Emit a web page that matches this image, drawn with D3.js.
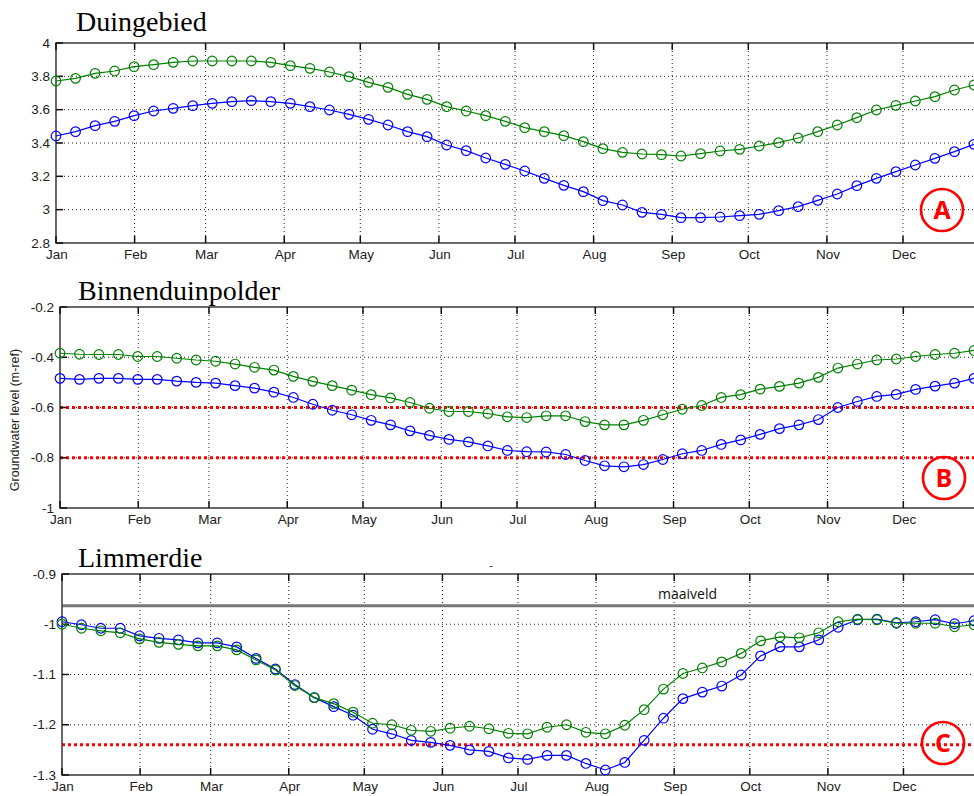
<!DOCTYPE html>
<html>
<head>
<meta charset="utf-8">
<script src="https://cdn.jsdelivr.net/npm/d3@7"></script>
<style>
  body { margin: 0; background: #fff; }
  svg { display: block; }
</style>
</head>
<body>
<div id="chart"></div>
<script>
// month tick labels
const months = ["Jan", "Feb", "Mar", "Apr", "May", "Jun", "Jul", "Aug", "Sep", "Oct", "Nov", "Dec"];

// 48 samples, evenly spread over the year (day offset from 1 Jan)
const sampleCount = 48;
const lastDay = 362;

// Duingebied
const duinGreen = [3.772, 3.788, 3.818, 3.832, 3.858, 3.870, 3.884, 3.892, 3.892, 3.892, 3.892, 3.884,
  3.864, 3.848, 3.826, 3.798, 3.764, 3.734, 3.692, 3.662, 3.618, 3.592, 3.564, 3.530,
  3.492, 3.468, 3.444, 3.408, 3.366, 3.344, 3.334, 3.330, 3.322, 3.336, 3.352, 3.362,
  3.382, 3.402, 3.430, 3.468, 3.508, 3.552, 3.598, 3.626, 3.652, 3.678, 3.718, 3.748];
const duinBlue = [3.442, 3.468, 3.504, 3.530, 3.564, 3.592, 3.608, 3.624, 3.638, 3.648, 3.654, 3.648,
  3.638, 3.618, 3.598, 3.572, 3.542, 3.508, 3.468, 3.438, 3.388, 3.354, 3.310, 3.272,
  3.232, 3.188, 3.146, 3.108, 3.054, 3.028, 2.984, 2.972, 2.952, 2.952, 2.956, 2.964,
  2.972, 2.994, 3.018, 3.056, 3.094, 3.144, 3.188, 3.228, 3.268, 3.308, 3.348, 3.392];

// Binnenduinpolder
const polderGreen = [-0.384, -0.388, -0.389, -0.389, -0.397, -0.397, -0.404, -0.411, -0.416, -0.427, -0.440, -0.451,
  -0.476, -0.496, -0.513, -0.531, -0.549, -0.562, -0.580, -0.603, -0.616, -0.616, -0.624, -0.637,
  -0.640, -0.633, -0.633, -0.656, -0.669, -0.669, -0.651, -0.629, -0.607, -0.592, -0.560, -0.549,
  -0.527, -0.516, -0.503, -0.480, -0.443, -0.427, -0.411, -0.407, -0.397, -0.389, -0.384, -0.373];
const polderBlue = [-0.484, -0.488, -0.484, -0.484, -0.488, -0.488, -0.495, -0.500, -0.503, -0.513, -0.523, -0.539,
  -0.560, -0.587, -0.611, -0.629, -0.651, -0.669, -0.693, -0.711, -0.727, -0.737, -0.753, -0.771,
  -0.776, -0.777, -0.787, -0.811, -0.832, -0.836, -0.827, -0.807, -0.784, -0.771, -0.747, -0.729,
  -0.707, -0.684, -0.669, -0.648, -0.600, -0.576, -0.556, -0.548, -0.528, -0.515, -0.503, -0.484];

// Limmerdie
const limGreen = [-1.000, -1.008, -1.013, -1.017, -1.029, -1.036, -1.040, -1.043, -1.043, -1.051, -1.071, -1.091,
  -1.122, -1.146, -1.158, -1.175, -1.197, -1.200, -1.211, -1.213, -1.207, -1.203, -1.208, -1.217,
  -1.218, -1.205, -1.200, -1.215, -1.218, -1.201, -1.170, -1.129, -1.098, -1.087, -1.075, -1.058,
  -1.033, -1.025, -1.027, -1.017, -0.995, -0.990, -0.991, -0.998, -0.998, -0.998, -1.005, -1.001];
const limBlue = [-0.995, -1.001, -1.008, -1.008, -1.023, -1.028, -1.031, -1.037, -1.037, -1.045, -1.068, -1.089,
  -1.120, -1.146, -1.164, -1.181, -1.209, -1.218, -1.231, -1.235, -1.241, -1.250, -1.253, -1.266,
  -1.269, -1.261, -1.261, -1.277, -1.290, -1.275, -1.231, -1.187, -1.148, -1.135, -1.123, -1.101,
  -1.063, -1.045, -1.045, -1.031, -1.006, -0.991, -0.990, -0.997, -0.995, -0.991, -0.999, -0.993];

const panels = [
  { title: "Duingebied", left: 56, top: 43, bottom: 243, titleX: 76, titleY: 31,
    yDomain: [2.8, 4], yTicks: [2.8, 3, 3.2, 3.4, 3.6, 3.8, 4],
    green: duinGreen, blue: duinBlue, limits: [], maaiveld: null,
    badge: { label: "A", x: 942, y: 210 } },
  { title: "Binnenduinpolder", left: 60, top: 307, bottom: 508, titleX: 78, titleY: 300,
    yDomain: [-1, -0.2], yTicks: [-1, -0.8, -0.6, -0.4, -0.2],
    green: polderGreen, blue: polderBlue, limits: [-0.6, -0.8], maaiveld: null,
    badge: { label: "B", x: 944, y: 478 } },
  { title: "Limmerdie", left: 62, top: 574, bottom: 775, titleX: 78, titleY: 567,
    yDomain: [-1.3, -0.9], yTicks: [-1.3, -1.2, -1.1, -1, -0.9],
    green: limGreen, blue: limBlue, limits: [-1.24], maaiveld: -0.963,
    badge: { label: "C", x: 943, y: 743 } }
];

const width = 974, height = 796, plotRight = 974;
const year = 2001;
const day0 = new Date(Date.UTC(year, 0, 1));
const sampleDates = d3.range(sampleCount).map(i => d3.utcHour.offset(day0, Math.round(i * lastDay / (sampleCount - 1) * 24)));
const monthDates = months.map((m, i) => new Date(Date.UTC(year, i, 1)));

const svg = d3.select("#chart").append("svg")
  .attr("width", width)
  .attr("height", height)
  .style("background", "#fff");

panels.forEach(p => {
  const x = d3.scaleUtc()
    .domain([day0, d3.utcDay.offset(day0, lastDay)])
    .range([p.left, plotRight]);
  const y = d3.scaleLinear().domain(p.yDomain).range([p.bottom, p.top]);

  const g = svg.append("g");

  // title
  g.append("text")
    .attr("x", p.titleX).attr("y", p.titleY)
    .attr("font-family", "'Liberation Serif', 'Times New Roman', serif")
    .attr("font-size", 28)
    .attr("fill", "#000")
    .text(p.title);

  // dotted grid
  g.selectAll("line.vgrid").data(monthDates.slice(1)).enter().append("line")
    .attr("class", "vgrid")
    .attr("x1", d => x(d)).attr("x2", d => x(d))
    .attr("y1", p.top).attr("y2", p.bottom)
    .attr("stroke", "#222").attr("stroke-width", 1)
    .attr("stroke-dasharray", "1,3");
  g.selectAll("line.hgrid").data(p.yTicks.slice(1, -1)).enter().append("line")
    .attr("class", "hgrid")
    .attr("x1", p.left).attr("x2", plotRight)
    .attr("y1", d => y(d)).attr("y2", d => y(d))
    .attr("stroke", "#222").attr("stroke-width", 1)
    .attr("stroke-dasharray", "1,3");

  // maaiveld line
  if (p.maaiveld !== null) {
    g.append("line")
      .attr("x1", p.left).attr("x2", plotRight)
      .attr("y1", y(p.maaiveld)).attr("y2", y(p.maaiveld))
      .attr("stroke", "#777").attr("stroke-width", 3);
    g.append("text")
      .attr("x", 658).attr("y", y(p.maaiveld) - 7)
      .attr("font-family", "'Open Sans', sans-serif")
      .attr("font-size", 14)
      .attr("fill", "#111")
      .text("maaiveld");
  }

  // red threshold lines
  g.selectAll("line.limit").data(p.limits).enter().append("line")
    .attr("class", "limit")
    .attr("x1", p.left).attr("x2", plotRight)
    .attr("y1", d => y(d)).attr("y2", d => y(d))
    .attr("stroke", "#ff0000").attr("stroke-width", 3)
    .attr("stroke-dasharray", "3,3");

  // axes frame
  g.append("rect")
    .attr("x", p.left).attr("y", p.top)
    .attr("width", plotRight + 4 - p.left).attr("height", p.bottom - p.top)
    .attr("fill", "none").attr("stroke", "#444").attr("stroke-width", 1.6);

  // inside ticks
  const tickLen = 7;
  monthDates.forEach(d => {
    g.append("line").attr("x1", x(d)).attr("x2", x(d))
      .attr("y1", p.bottom).attr("y2", p.bottom - tickLen)
      .attr("stroke", "#111").attr("stroke-width", 1.5);
    g.append("line").attr("x1", x(d)).attr("x2", x(d))
      .attr("y1", p.top).attr("y2", p.top + tickLen)
      .attr("stroke", "#111").attr("stroke-width", 1.5);
  });
  p.yTicks.forEach(v => {
    g.append("line").attr("x1", p.left).attr("x2", p.left + tickLen)
      .attr("y1", y(v)).attr("y2", y(v))
      .attr("stroke", "#111").attr("stroke-width", 1.5);
  });

  // tick labels
  g.selectAll("text.xlab").data(monthDates).enter().append("text")
    .attr("class", "xlab")
    .attr("x", d => x(d) + 1).attr("y", p.bottom + 16)
    .attr("text-anchor", "middle")
    .attr("font-family", "'Liberation Sans', Arial, sans-serif")
    .attr("font-size", 13.5).attr("fill", "#222")
    .text((d, i) => months[i]);
  g.selectAll("text.ylab").data(p.yTicks).enter().append("text")
    .attr("class", "ylab")
    .attr("x", p.left - 6).attr("y", d => y(d))
    .attr("dy", "0.35em")
    .attr("text-anchor", "end")
    .attr("font-family", "'Liberation Sans', Arial, sans-serif")
    .attr("font-size", 13.5).attr("fill", "#222")
    .text(d => String(d));

  // series
  const series = [
    { values: p.blue, color: "#0000ff" },
    { values: p.green, color: "#008000" }
  ];
  const line = d3.line()
    .x((d, i) => x(sampleDates[i]))
    .y(d => y(d));
  series.forEach(s => {
    g.append("path")
      .datum(s.values)
      .attr("d", line)
      .attr("fill", "none")
      .attr("stroke", s.color)
      .attr("stroke-width", 1.2);
    g.selectAll(null).data(s.values).enter().append("circle")
      .attr("cx", (d, i) => x(sampleDates[i]))
      .attr("cy", d => y(d))
      .attr("r", 4.8)
      .attr("fill", "none")
      .attr("stroke", s.color)
      .attr("stroke-width", 1.2);
  });

  // circled letter
  g.append("circle")
    .attr("cx", p.badge.x).attr("cy", p.badge.y).attr("r", 21)
    .attr("fill", "none").attr("stroke", "#ff0000").attr("stroke-width", 2.7);
  g.append("text")
    .attr("x", p.badge.x).attr("y", p.badge.y)
    .attr("dy", "0.36em")
    .attr("text-anchor", "middle")
    .attr("font-family", "'Open Sans', sans-serif")
    .attr("font-weight", 700)
    .attr("font-size", 25)
    .attr("fill", "#ff0000")
    .text(p.badge.label);
});

// y axis label for the middle panel
svg.append("text")
  .attr("transform", "translate(19,420) rotate(-90)")
  .attr("text-anchor", "middle")
  .attr("font-family", "'Liberation Sans', Arial, sans-serif")
  .attr("font-size", 12.5)
  .attr("fill", "#222")
  .text("Groundwater level (m-ref)");

// stray title mark above the bottom panel
svg.append("text")
  .attr("x", 491).attr("y", 569)
  .attr("text-anchor", "middle")
  .attr("font-family", "'Liberation Sans', Arial, sans-serif")
  .attr("font-size", 11)
  .attr("fill", "#222")
  .text("-");
</script>
</body>
</html>
